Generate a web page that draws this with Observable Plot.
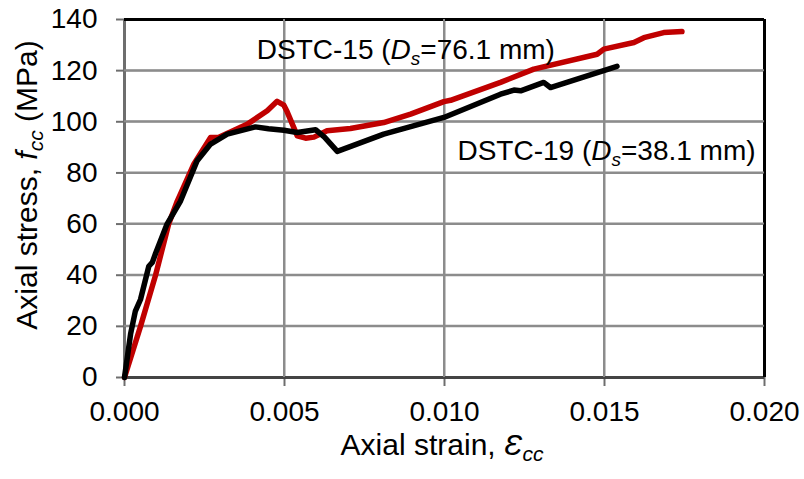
<!DOCTYPE html>
<html>
<head>
<meta charset="utf-8">
<script src="https://cdn.jsdelivr.net/npm/d3@7"></script>
<script src="https://cdn.jsdelivr.net/npm/@observablehq/plot@0.6"></script>
<style>
  html, body { margin: 0; padding: 0; background: #fff; }
  svg { display: block; }
</style>
</head>
<body>
<div id="chart"></div>
<script>
// Axial strain / stress readings (strain, MPa)
const dstc15Strain = [0, 0.0005, 0.00097, 0.00138, 0.00165, 0.00217, 0.00269, 0.00295, 0.00383, 0.00446, 0.00477, 0.00498, 0.00508, 0.0054, 0.00566, 0.00592, 0.00633, 0.00706, 0.0081, 0.00894, 0.00998, 0.01019, 0.01175, 0.01279, 0.01477, 0.01498, 0.01592, 0.01623, 0.01685, 0.01742];
const dstc15Stress = [0, 20, 40, 60, 69, 83.5, 93.9, 94, 99, 104.3, 108, 106.5, 104, 94.5, 93.6, 94, 96.5, 97.4, 99.7, 103, 107.9, 108.4, 115.4, 120.6, 126.4, 128.4, 131, 132.9, 134.9, 135.3];

const dstc19Strain = [0, 0.00019, 0.00034, 0.0005, 0.00076, 0.00087, 0.00097, 0.00133, 0.00175, 0.00227, 0.00269, 0.00321, 0.00409, 0.0045, 0.00498, 0.0054, 0.00597, 0.00625, 0.00665, 0.0081, 0.00998, 0.01175, 0.01217, 0.01238, 0.0131, 0.01331, 0.01539];
const dstc19Stress = [0, 17, 26, 30.5, 43.5, 45, 48.5, 60, 69, 84.8, 91.3, 95.2, 98, 97.3, 96.7, 95.8, 96.9, 94, 88.4, 95.2, 101.7, 110.8, 112.4, 112.1, 115.4, 113.4, 121.7];

const xTicks = [0, 0.005, 0.010, 0.015, 0.020];
const yTicks = [0, 20, 40, 60, 80, 100, 120, 140];

// Curve annotations (start strain, baseline stress)
const labelNames = ["DSTC-15", "DSTC-19"];
const labelDs = ["76.1", "38.1"];
const labelStrain = [0.00415, 0.01042];
const labelStress = [124.5, 85];

const red = dstc15Strain.map((x, i) => ({x, y: dstc15Stress[i]}));
const black = dstc19Strain.map((x, i) => ({x, y: dstc19Stress[i]}));
const xGrid = xTicks.map(v => ({v}));
const yGrid = yTicks.map(v => ({v}));

const FONT = "'Liberation Sans', Arial, sans-serif";
const gridColor = "#8c8c8c";
const axisColor = "#6e6e6e";

const plot = Plot.plot({
  width: 804,
  height: 479,
  marginLeft: 124,
  marginRight: 40,
  marginTop: 19,
  marginBottom: 102,
  style: {fontFamily: FONT, fontSize: "28px", color: "#000", background: "#fff"},
  x: {domain: [0, 0.02], label: null},
  y: {domain: [0, 140], label: null},
  marks: [
    Plot.ruleX(xGrid, {x: "v", y1: 0, y2: 140, stroke: gridColor, strokeOpacity: 1, strokeWidth: 2}),
    Plot.ruleY(yGrid, {y: "v", x1: 0, x2: 0.02, stroke: gridColor, strokeOpacity: 1, strokeWidth: 2}),
    Plot.axisX(xTicks, {tickFormat: d3.format(".3f"), tickSize: 9, tickPadding: 15, stroke: axisColor, strokeWidth: 2, fill: "#000", fontSize: 28, label: null}),
    Plot.axisY(yTicks, {tickFormat: d3.format("d"), tickSize: 8, tickPadding: 19, stroke: axisColor, strokeWidth: 2, fill: "#000", fontSize: 28, label: null}),
    Plot.ruleX([0], {stroke: axisColor, strokeWidth: 3}),
    Plot.ruleY([0], {stroke: "#444", strokeWidth: 3}),
    Plot.ruleY([140], {stroke: "#000", strokeWidth: 3}),
    Plot.ruleX([0.02], {stroke: "#000", strokeWidth: 3}),
    Plot.line(red, {x: "x", y: "y", stroke: "#c00000", strokeWidth: 5.5}),
    Plot.line(black, {x: "x", y: "y", stroke: "#000", strokeWidth: 5.5})
  ]
});
document.getElementById("chart").appendChild(plot);

const svg = d3.select(plot);
const sx = plot.scale("x"), sy = plot.scale("y");

// Extra grid drawn from the Plot scales, placed beneath the curves
const firstLine = plot.querySelector('g[aria-label="line"]');
const gridG = document.createElementNS("http://www.w3.org/2000/svg", "g");
plot.insertBefore(gridG, firstLine);
const gg = d3.select(gridG).attr("stroke", gridColor).attr("stroke-width", 2).attr("fill", "none");
for (const v of xTicks.slice(1, -1)) {
  gg.append("line").attr("x1", sx.apply(v)).attr("x2", sx.apply(v)).attr("y1", sy.apply(0)).attr("y2", sy.apply(140));
}
for (const v of yTicks.slice(1, -1)) {
  gg.append("line").attr("x1", sx.apply(0)).attr("x2", sx.apply(0.02)).attr("y1", sy.apply(v)).attr("y2", sy.apply(v));
}

// Rich text built from separate text elements laid out by measured width
function richText(pieces, size, subSize, x, y, anchor, rotate) {
  const g = svg.append("g");
  const inner = g.append("g");
  let cx = 0;
  for (const p of pieces) {
    const t = inner.append("text")
      .attr("x", cx).attr("y", p.sub ? 6 : 0)
      .attr("text-anchor", "start")
      .attr("font-family", FONT)
      .attr("font-size", p.sub ? subSize : size)
      .attr("font-style", p.italic ? "italic" : "normal")
      .attr("fill", "#000")
      .text(p.t);
    cx += t.node().getComputedTextLength();
  }
  const shift = anchor === "middle" ? -cx / 2 : 0;
  g.attr("transform", `translate(${x},${y})` + (rotate ? ` rotate(${rotate})` : ""));
  inner.attr("transform", `translate(${shift},0)`);
}

labelNames.forEach((n, i) => {
  richText([
    {t: n + "\u00a0("},
    {t: "D", italic: true},
    {t: "s", italic: true, sub: true},
    {t: "=" + labelDs[i] + "\u00a0mm)"}
  ], 28, 19, sx.apply(labelStrain[i]), sy.apply(labelStress[i]), "start", 0);
});

// Axis titles
richText([
  {t: "Axial stress,\u00a0"},
  {t: "f", italic: true},
  {t: "cc", italic: true, sub: true},
  {t: "\u00a0(MPa)"}
], 30, 21, 37, 185, "middle", -90);

richText([
  {t: "Axial strain,\u00a0"},
  {t: "\u0190", italic: true},
  {t: "cc", italic: true, sub: true}
], 30, 21, 442, 455, "middle", 0);
</script>
</body>
</html>
